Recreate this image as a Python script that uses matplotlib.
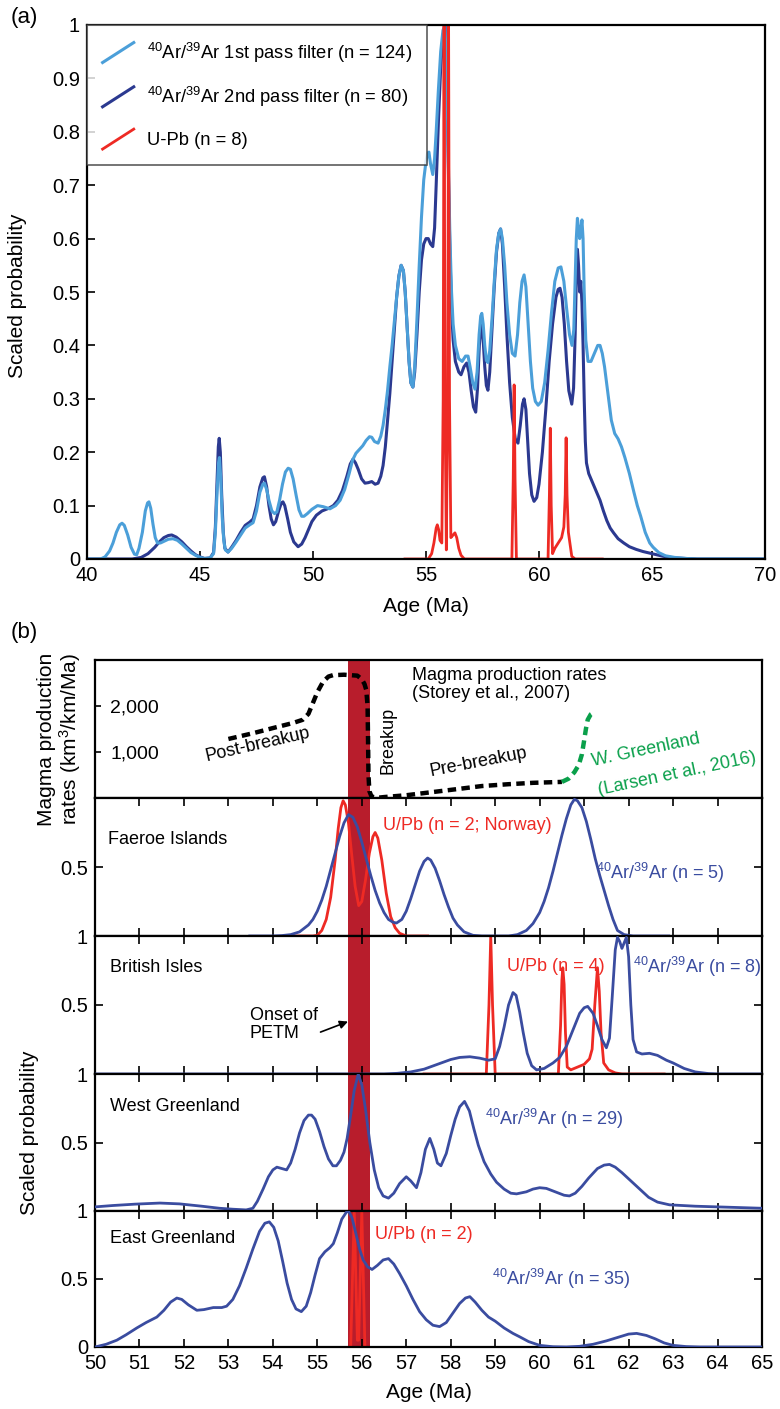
import matplotlib
matplotlib.use("Agg")
from matplotlib import pyplot as plt
from matplotlib.lines import Line2D
from matplotlib.legend_handler import HandlerBase

plt.rcParams['font.family'] = ['Liberation Sans', 'DejaVu Sans']
plt.rcParams['mathtext.fontset'] = 'custom'
plt.rcParams['mathtext.rm'] = 'Liberation Sans'
plt.rcParams['mathtext.it'] = 'Liberation Sans:italic'
plt.rcParams['mathtext.bf'] = 'Liberation Sans:bold'

# ---------------- panel (a): probability curves ----------------
a_age_1 = [40.0, 40.6, 40.8, 41.0, 41.15, 41.3, 41.45, 41.55, 41.65, 41.8, 41.95, 42.1, 42.2, 42.3,
           42.45, 42.58, 42.68, 42.74, 42.82, 42.92, 43.02, 43.12, 43.25, 43.4, 43.6, 43.8, 44.0,
           44.2, 44.4, 44.6, 44.8, 45.0, 45.2, 45.45, 45.6, 45.68, 45.75, 45.82, 45.86, 45.92, 45.98,
           46.05, 46.12, 46.24, 46.4, 46.6, 46.8, 47.0, 47.2, 47.35, 47.5, 47.65, 47.78, 47.85,
           47.95, 48.05, 48.18, 48.3, 48.4, 48.52, 48.65, 48.78, 48.9, 49.0, 49.12, 49.25, 49.38,
           49.5, 49.6, 49.75, 49.95, 50.2, 50.45, 50.75, 51.0, 51.2, 51.4, 51.6, 51.75, 51.9, 52.05,
           52.2, 52.35, 52.5, 52.6, 52.72, 52.88, 53.0, 53.1, 53.2, 53.3, 53.4, 53.5, 53.6, 53.7,
           53.8, 53.9, 54.0, 54.08, 54.16, 54.25, 54.33, 54.42, 54.5, 54.6, 54.7, 54.8, 54.9, 55.0,
           55.07, 55.13, 55.2, 55.3, 55.38, 55.45, 55.55, 55.65, 55.75, 55.84, 55.92, 56.0, 56.06,
           56.13, 56.2, 56.3, 56.45, 56.6, 56.75, 56.86, 56.95, 57.07, 57.17, 57.26, 57.35, 57.42,
           57.47, 57.53, 57.6, 57.67, 57.74, 57.82, 57.92, 58.02, 58.12, 58.22, 58.3, 58.38, 58.48,
           58.58, 58.7, 58.82, 58.94, 59.05, 59.15, 59.25, 59.34, 59.42, 59.52, 59.62, 59.72, 59.84,
           59.96, 60.1, 60.25, 60.4, 60.55, 60.7, 60.85, 60.97, 61.1, 61.22, 61.35, 61.46, 61.54,
           61.6, 61.65, 61.7, 61.75, 61.8, 61.85, 61.9, 61.95, 62.0, 62.07, 62.17, 62.3, 62.45, 62.6,
           62.7, 62.8, 62.9, 63.05, 63.2, 63.35, 63.5, 63.65, 63.8, 64.0, 64.2, 64.35, 64.5, 64.7,
           64.9, 65.05, 65.3, 65.6, 66.0, 66.5, 67.0, 70.0]
a_p_1 = [0.0, 0.0, 0.004, 0.015, 0.03, 0.05, 0.064, 0.067, 0.063, 0.045, 0.022, 0.009, 0.008, 0.02,
         0.05, 0.09, 0.105, 0.107, 0.095, 0.065, 0.04, 0.03, 0.03, 0.033, 0.037, 0.038, 0.035,
         0.028, 0.02, 0.012, 0.007, 0.003, 0.001, 0.002, 0.01, 0.05, 0.12, 0.18, 0.19, 0.15, 0.08,
         0.035, 0.017, 0.013, 0.02, 0.032, 0.045, 0.058, 0.064, 0.068, 0.09, 0.125, 0.14, 0.142,
         0.13, 0.11, 0.09, 0.085, 0.088, 0.11, 0.14, 0.163, 0.17, 0.168, 0.15, 0.12, 0.092,
         0.08, 0.08, 0.085, 0.093, 0.1, 0.098, 0.094, 0.1, 0.11, 0.13, 0.16, 0.185, 0.198, 0.205,
         0.212, 0.222, 0.229, 0.228, 0.22, 0.217, 0.23, 0.25, 0.28, 0.316, 0.36, 0.4, 0.445, 0.49,
         0.53, 0.55, 0.54, 0.5, 0.44, 0.37, 0.33, 0.322, 0.36, 0.45, 0.55, 0.64, 0.71, 0.745,
         0.76, 0.762, 0.74, 0.72, 0.75, 0.8, 0.88, 0.95, 0.99, 1.0, 0.9, 0.72, 0.6,
         0.5, 0.44, 0.4, 0.375, 0.37, 0.38, 0.38, 0.36, 0.33, 0.318, 0.35, 0.42, 0.455,
         0.46, 0.44, 0.4, 0.372, 0.368, 0.39, 0.45, 0.52, 0.58, 0.61, 0.618, 0.6, 0.55,
         0.48, 0.42, 0.385, 0.38, 0.42, 0.48, 0.52, 0.532, 0.51, 0.44, 0.37, 0.32, 0.295,
         0.288, 0.295, 0.33, 0.39, 0.46, 0.52, 0.545, 0.547, 0.52, 0.47, 0.42, 0.40, 0.43,
         0.52, 0.6, 0.638, 0.62, 0.6, 0.615, 0.635, 0.6, 0.5, 0.41, 0.37, 0.37, 0.385, 0.4,
         0.40, 0.385, 0.36, 0.31, 0.26, 0.235, 0.225, 0.21, 0.19, 0.16, 0.125, 0.1, 0.08, 0.05,
         0.03, 0.022, 0.012, 0.006, 0.003, 0.001, 0.0, 0.0]

a_age_2 = [40.0, 42.0, 42.4, 42.7, 43.0, 43.2, 43.4, 43.6, 43.75, 43.95, 44.2, 44.4, 44.6, 44.8,
           45.0, 45.2, 45.45, 45.6, 45.68, 45.75, 45.81, 45.85, 45.9, 45.96, 46.03, 46.1, 46.24,
           46.4, 46.6, 46.8, 47.0, 47.2, 47.35, 47.5, 47.65, 47.78, 47.85, 47.95, 48.05, 48.15,
           48.25, 48.35, 48.48, 48.6, 48.67, 48.75, 48.88, 49.0, 49.15, 49.34, 49.5, 49.65, 49.8,
           49.95, 50.15, 50.4, 50.7, 50.9, 51.1, 51.3, 51.5, 51.65, 51.77, 51.88, 52.0, 52.15, 52.3,
           52.45, 52.6, 52.75, 52.88, 53.0, 53.1, 53.2, 53.3, 53.4, 53.5, 53.6, 53.7, 53.8, 53.9,
           54.0, 54.08, 54.16, 54.25, 54.33, 54.42, 54.5, 54.6, 54.7, 54.8, 54.9, 55.0, 55.1, 55.2,
           55.3, 55.38, 55.45, 55.55, 55.65, 55.75, 55.86, 55.93, 56.0, 56.06, 56.13, 56.2, 56.3,
           56.45, 56.55, 56.68, 56.8, 56.9, 57.0, 57.1, 57.2, 57.28, 57.36, 57.42, 57.47, 57.53,
           57.6, 57.67, 57.74, 57.82, 57.92, 58.02, 58.12, 58.22, 58.3, 58.38, 58.48, 58.58, 58.7,
           58.82, 58.95, 59.07, 59.17, 59.27, 59.34, 59.42, 59.5, 59.58, 59.68, 59.78, 59.9, 60.0,
           60.15, 60.3, 60.45, 60.6, 60.75, 60.85, 60.93, 61.02, 61.12, 61.22, 61.32, 61.45, 61.53,
           61.6, 61.66, 61.7, 61.75, 61.8, 61.85, 61.9, 61.95, 62.0, 62.05, 62.1, 62.2, 62.4, 62.55,
           62.7, 62.85, 63.0, 63.15, 63.3, 63.5, 63.75, 64.0, 64.3, 64.6, 65.0, 65.5, 66.0, 67.0,
           70.0]
a_p_2 = [0.0, 0.0, 0.003, 0.01, 0.022, 0.032, 0.04, 0.044, 0.045, 0.041, 0.032, 0.023, 0.015, 0.008,
         0.004, 0.001, 0.002, 0.012, 0.06, 0.14, 0.21, 0.226, 0.2, 0.12, 0.05, 0.02, 0.013,
         0.022, 0.035, 0.05, 0.063, 0.069, 0.075, 0.1, 0.135, 0.152, 0.154, 0.135, 0.1, 0.075,
         0.064, 0.07, 0.09, 0.105, 0.107, 0.1, 0.075, 0.05, 0.032, 0.023, 0.028, 0.04, 0.055,
         0.07, 0.082, 0.09, 0.095, 0.1, 0.11, 0.128, 0.155, 0.178, 0.187, 0.18, 0.168, 0.15, 0.142,
         0.143, 0.145, 0.14, 0.142, 0.155, 0.175, 0.21, 0.26, 0.31, 0.37, 0.43, 0.49, 0.53, 0.55,
         0.54, 0.5, 0.44, 0.37, 0.33, 0.322, 0.35, 0.42, 0.5, 0.56, 0.59, 0.6, 0.6, 0.59,
         0.585, 0.62, 0.7, 0.82, 0.92, 0.98, 1.0, 0.9, 0.7, 0.57, 0.47, 0.41, 0.37,
         0.35, 0.345, 0.36, 0.367, 0.35, 0.315, 0.285, 0.275, 0.32, 0.4, 0.43, 0.44, 0.41,
         0.36, 0.325, 0.316, 0.35, 0.43, 0.51, 0.575, 0.61, 0.618, 0.59, 0.51, 0.42, 0.33,
         0.265, 0.225, 0.217, 0.25, 0.29, 0.3, 0.28, 0.22, 0.16, 0.12, 0.108, 0.115, 0.14,
         0.2, 0.28, 0.37, 0.44, 0.49, 0.505, 0.507, 0.49, 0.44, 0.37, 0.315, 0.29, 0.32,
         0.42, 0.54, 0.58, 0.55, 0.5, 0.52, 0.48, 0.4, 0.3, 0.22, 0.18, 0.16, 0.14, 0.125,
         0.11, 0.09, 0.072, 0.058, 0.049, 0.038, 0.03, 0.023, 0.018, 0.014, 0.01, 0.005, 0.002, 0.0,
         0.0]

a_age_upb = [54.07, 55.1, 55.25, 55.35, 55.45, 55.5, 55.56, 55.62, 55.7, 55.76, 55.8, 55.84, 55.9,
             55.96, 56.0, 56.04, 56.1, 56.2, 56.28, 56.36, 56.45, 56.55, 56.7, 58.8, 58.86, 58.9,
             58.94, 59.0, 60.4, 60.46, 60.5, 60.54, 60.6, 60.7, 60.85, 61.0, 61.1, 61.16, 61.2,
             61.24, 61.3, 61.45, 61.6, 62.8]
a_p_upb = [0.0, 0.0, 0.01, 0.03, 0.058, 0.064, 0.055, 0.035, 0.03, 0.3, 1.0, 0.3, 0.017,
           0.3, 1.0, 0.3, 0.04, 0.045, 0.049, 0.04, 0.02, 0.007, 0.0, 0.0, 0.15, 0.326,
           0.15, 0.0, 0.0, 0.12, 0.245, 0.1, 0.01, 0.02, 0.03, 0.04, 0.06, 0.12, 0.227,
           0.12, 0.05, 0.005, 0.0, 0.0]

legend_labels = ['$^{40}$Ar/$^{39}$Ar 1st pass filter (n = 124)',
                 '$^{40}$Ar/$^{39}$Ar 2nd pass filter (n = 80)',
                 'U-Pb (n = 8)']

# ---------------- panel (b) ----------------
mag_age = [53.0, 53.56, 54.0, 54.45, 54.67, 54.8, 54.9, 55.0, 55.13, 55.25, 55.35, 55.6, 55.9,
           56.0, 56.06, 56.1, 56.13, 56.14, 56.15, 56.17, 56.22, 56.35, 56.5, 57.0, 57.6, 58.2,
           58.7, 59.3, 59.85, 60.5]
mag_rate = [1283, 1410, 1520, 1630, 1700, 1830, 2065, 2300, 2530, 2640, 2670, 2680, 2660,
            2580, 2480, 2350, 2000, 1300, 500, 150, 30, 5, 20, 60, 130, 200,
            260, 300, 330, 350]
green_age = [60.5, 60.65, 60.78, 60.88, 60.95, 61.0, 61.04, 61.08, 61.15, 61.25]
green_rate = [350, 420, 560, 720, 950, 1250, 1500, 1700, 1820, 1880]

fa_age = [53.48, 54.0, 54.2, 54.4, 54.6, 54.8, 54.9, 55.0, 55.1, 55.2, 55.3, 55.4, 55.5, 55.6,
          55.7, 55.8, 55.9, 56.0, 56.1, 56.2, 56.3, 56.4, 56.5, 56.6, 56.7, 56.78, 56.9, 57.0,
          57.1, 57.2, 57.3, 57.4, 57.48, 57.55, 57.65, 57.75, 57.85, 57.95, 58.05, 58.15, 58.3,
          58.5, 58.7, 59.3, 59.5, 59.7, 59.85, 60.0, 60.1, 60.2, 60.3, 60.4, 60.5, 60.6, 60.7,
          60.78, 60.85, 60.95, 61.05, 61.15, 61.25, 61.35, 61.45, 61.55, 61.65, 61.75, 61.9, 62.1,
          62.9]
fa_p = [0.0, 0.0, 0.003, 0.01, 0.03, 0.08, 0.12, 0.18, 0.26, 0.36, 0.48, 0.6, 0.72, 0.82,
        0.88, 0.86, 0.79, 0.68, 0.56, 0.44, 0.33, 0.24, 0.17, 0.12, 0.1, 0.094, 0.12, 0.18,
        0.27, 0.37, 0.47, 0.54, 0.565, 0.55, 0.49, 0.4, 0.3, 0.21, 0.13, 0.08, 0.03,
        0.005, 0.0, 0.0, 0.01, 0.04, 0.09, 0.17, 0.25, 0.35, 0.47, 0.6, 0.73, 0.85, 0.95,
        0.99, 0.98, 0.93, 0.83, 0.7, 0.56, 0.44, 0.33, 0.22, 0.12, 0.04, 0.01, 0.0,
        0.0]
fa_age_upb = [54.42, 54.9, 55.0, 55.1, 55.2, 55.3, 55.4, 55.47, 55.53, 55.58, 55.63, 55.7, 55.77,
              55.85, 55.93, 56.0, 56.08, 56.17, 56.25, 56.3, 56.36, 56.45, 56.55, 56.65, 56.75,
              56.85, 57.0, 57.48]
fa_p_upb = [0.0, 0.0, 0.005, 0.04, 0.12, 0.28, 0.55, 0.78, 0.93, 0.98, 0.95, 0.82, 0.6,
            0.36, 0.22, 0.25, 0.4, 0.6, 0.72, 0.75, 0.71, 0.55, 0.31, 0.14, 0.06,
            0.02, 0.0, 0.0]

bi_age = [50.0, 56.5, 56.8, 57.1, 57.4, 57.7, 58.0, 58.2, 58.43, 58.65, 58.85, 59.0, 59.1, 59.2,
          59.3, 59.4, 59.47, 59.55, 59.63, 59.72, 59.82, 59.93, 60.1, 60.3, 60.45, 60.6, 60.75,
          60.9, 61.0, 61.08, 61.2, 61.3, 61.4, 61.5, 61.57, 61.63, 61.7, 61.75, 61.8, 61.85, 61.9,
          61.95, 62.0, 62.05, 62.1, 62.18, 62.3, 62.47, 62.65, 62.85, 63.0, 63.25, 63.5, 63.8,
          64.0, 65.0]
bi_p = [0.0, 0.0, 0.005, 0.015, 0.035, 0.07, 0.105, 0.12, 0.125, 0.115, 0.1, 0.11, 0.2, 0.34,
        0.5, 0.59, 0.57, 0.45, 0.3, 0.15, 0.06, 0.03, 0.04, 0.08, 0.12, 0.2, 0.32,
        0.44, 0.48, 0.49, 0.44, 0.35, 0.25, 0.19, 0.26, 0.55, 0.9, 0.99, 0.96, 0.91, 0.95,
        0.99, 0.85, 0.5, 0.25, 0.16, 0.145, 0.15, 0.135, 0.1, 0.08, 0.04, 0.015, 0.003,
        0.0, 0.0]
bi_age_upb = [57.4, 58.8, 58.86, 58.9, 58.94, 59.0, 60.42, 60.47, 60.5, 60.52, 60.55, 60.58, 60.62,
              60.7, 60.85, 61.0, 61.12, 61.18, 61.24, 61.3, 61.34, 61.38, 61.44, 61.55, 61.7,
              61.85, 62.8]
bi_p_upb = [0.0, 0.0, 0.5, 1.0, 0.5, 0.0, 0.0, 0.35, 0.68, 0.77, 0.65, 0.3, 0.05,
            0.03, 0.05, 0.07, 0.11, 0.18, 0.5, 0.77, 0.6, 0.3, 0.08, 0.03, 0.008,
            0.0, 0.0]

wg_age = [50.0, 50.4, 50.9, 51.46, 51.9, 52.4, 52.8, 53.1, 53.4, 53.55, 53.65, 53.78, 53.9, 54.0,
          54.09, 54.2, 54.31, 54.4, 54.5, 54.6, 54.7, 54.8, 54.87, 54.95, 55.05, 55.15, 55.25,
          55.35, 55.43, 55.52, 55.6, 55.67, 55.75, 55.83, 55.92, 56.0, 56.08, 56.18, 56.28, 56.38,
          56.48, 56.6, 56.72, 56.85, 57.0, 57.1, 57.23, 57.33, 57.43, 57.53, 57.62, 57.7, 57.78,
          57.9, 58.0, 58.1, 58.2, 58.31, 58.42, 58.52, 58.62, 58.75, 58.9, 59.03, 59.2, 59.35,
          59.48, 59.7, 59.85, 60.0, 60.15, 60.35, 60.55, 60.67, 60.8, 60.95, 61.1, 61.3, 61.45,
          61.57, 61.7, 61.85, 62.05, 62.25, 62.45, 62.65, 62.92, 63.5, 64.0, 64.5, 65.0]
wg_p = [0.03, 0.04, 0.05, 0.058, 0.052, 0.035, 0.02, 0.013, 0.008, 0.02, 0.07, 0.16, 0.25, 0.3,
        0.32, 0.31, 0.3, 0.35, 0.45, 0.57, 0.66, 0.7, 0.7, 0.67, 0.58, 0.47, 0.38,
        0.33, 0.33, 0.37, 0.43, 0.53, 0.7, 0.88, 1.0, 0.92, 0.75, 0.5, 0.3, 0.17,
        0.11, 0.094, 0.13, 0.2, 0.25, 0.22, 0.17, 0.28, 0.45, 0.53, 0.45, 0.35, 0.33,
        0.42, 0.55, 0.67, 0.76, 0.8, 0.73, 0.6, 0.48, 0.36, 0.27, 0.21, 0.16, 0.13,
        0.125, 0.14, 0.16, 0.17, 0.165, 0.14, 0.115, 0.11, 0.13, 0.18, 0.24, 0.31, 0.335,
        0.34, 0.32, 0.28, 0.22, 0.16, 0.1, 0.065, 0.045, 0.035, 0.03, 0.025, 0.02]

eg_age = [50.0, 50.25, 50.49, 50.7, 50.94, 51.15, 51.39, 51.55, 51.7, 51.84, 51.95, 52.1, 52.29,
          52.45, 52.66, 52.85, 52.96, 53.1, 53.25, 53.4, 53.55, 53.7, 53.82, 53.92, 54.02, 54.12,
          54.22, 54.32, 54.42, 54.52, 54.64, 54.75, 54.85, 54.95, 55.05, 55.17, 55.28, 55.36,
          55.45, 55.55, 55.65, 55.7, 55.78, 55.87, 55.95, 56.03, 56.13, 56.23, 56.35, 56.48, 56.6,
          56.72, 56.85, 57.0, 57.15, 57.3, 57.45, 57.6, 57.75, 57.9, 58.05, 58.2, 58.33, 58.43,
          58.55, 58.7, 58.85, 59.0, 59.2, 59.4, 59.55, 59.75, 60.0, 60.3, 60.6, 60.9, 61.2, 61.5,
          61.8, 62.0, 62.18, 62.4, 62.6, 62.8, 63.0, 63.3, 63.6, 65.0]
eg_p = [0.0, 0.02, 0.05, 0.09, 0.14, 0.18, 0.22, 0.27, 0.33, 0.36, 0.35, 0.31, 0.27,
        0.275, 0.29, 0.29, 0.3, 0.35, 0.45, 0.58, 0.72, 0.85, 0.91, 0.92, 0.88, 0.78,
        0.63, 0.47, 0.35, 0.28, 0.26, 0.3, 0.4, 0.53, 0.65, 0.7, 0.73, 0.76,
        0.84, 0.94, 0.99, 1.0, 0.95, 0.83, 0.72, 0.64, 0.59, 0.57, 0.6, 0.64, 0.65,
        0.61, 0.54, 0.45, 0.35, 0.26, 0.2, 0.16, 0.15, 0.18, 0.25, 0.32, 0.36, 0.37,
        0.33, 0.27, 0.22, 0.19, 0.14, 0.1, 0.075, 0.04, 0.012, 0.002, 0.0, 0.005, 0.02, 0.045,
        0.075, 0.095, 0.1, 0.085, 0.06, 0.03, 0.012, 0.003, 0.0, 0.0]
eg_age_upb = [55.75, 55.83, 55.9, 55.93, 56.0, 56.07]
eg_p_upb = [0.0, 1.0, 0.05, 0.05, 1.0, 0.0]

petm = (55.7, 56.18)

light_blue = '#4b9fd9'
dark_blue = '#2b3990'
blue_b = '#3a4ca0'
red = '#ee2a24'
bar_red = '#b81d2c'
green = '#0aa04b'

W, H = 780, 1409


def rect(l, t, r, b):
    return [l / W, 1 - b / H, (r - l) / W, (b - t) / H]


class HandlerDiag(HandlerBase):
    def create_artists(self, legend, orig_handle, xdescent, ydescent, width, height, fontsize, trans):
        line = Line2D([-xdescent, -xdescent + width], [-ydescent, -ydescent + height],
                      color=orig_handle.get_color(), lw=orig_handle.get_linewidth(), transform=trans)
        return [line]


fig = plt.figure(figsize=(W / 100, H / 100), dpi=100)

# ---- (a)
ax = fig.add_axes(rect(87, 25, 765, 559))
h2, = ax.plot(a_age_2, a_p_2, color=dark_blue, lw=2.2, solid_joinstyle='round')
h1, = ax.plot(a_age_1, a_p_1, color=light_blue, lw=2.2, solid_joinstyle='round')
h3, = ax.plot(a_age_upb, a_p_upb, color=red, lw=2.0, solid_joinstyle='round')
ax.set_xlim(40, 70)
ax.set_ylim(0, 1)
ax.set_xticks(range(40, 71, 5))
ax.set_yticks([i / 10 for i in range(11)])
ax.set_yticklabels(['0'] + ['%.1f' % (i / 10) for i in range(1, 10)] + ['1'])
ax.tick_params(direction='in', length=6, width=1.2, labelsize=14.5, pad=5)
for s in ax.spines.values():
    s.set_linewidth(1.6)
ax.set_xlabel('Age (Ma)', fontsize=15, labelpad=9)
fig.text(18 / W, 1 - 296 / H, 'Scaled probability', fontsize=15, rotation=90,
         ha='center', va='center')
leg = ax.legend([h1, h2, h3], legend_labels, handler_map={Line2D: HandlerDiag()},
                loc='upper left', bbox_to_anchor=(0, 1), borderaxespad=0, fancybox=False,
                fontsize=13.2, handlelength=1.7, handleheight=1.3, labelspacing=1.1,
                borderpad=0.85, handletextpad=0.7)
leg.get_frame().set_edgecolor('#333333')
leg.get_frame().set_linewidth(1.2)
fig.text(24 / W, 1 - 18 / H, '(a)', fontsize=16, ha='center', va='center')

# ---- (b)
axm = fig.add_axes(rect(95, 660, 762, 798))
axf = fig.add_axes(rect(95, 798, 762, 936))
axb = fig.add_axes(rect(95, 936, 762, 1074))
axw = fig.add_axes(rect(95, 1074, 762, 1211))
axe = fig.add_axes(rect(95, 1211, 762, 1347))

for a in [axm, axf, axb, axw, axe]:
    a.axvspan(petm[0], petm[1], color=bar_red, lw=0, zorder=0)
    a.set_xlim(50, 65)
    for s in a.spines.values():
        s.set_linewidth(1.6)

# magma panel
axm.plot(mag_age, mag_rate, color='black', lw=3.2, linestyle=(0, (1.9, 1.2)))
axm.plot(green_age, green_rate, color=green, lw=3.2, linestyle=(0, (1.9, 1.2)))
axm.set_ylim(0, 3000)
axm.set_xticks([])
axm.set_yticks([1000, 2000])
axm.set_yticklabels(['1,000', '2,000'])
axm.tick_params(axis='y', direction='in', length=4, width=1.2, labelsize=14, pad=-11)
for t in axm.get_yticklabels():
    t.set_horizontalalignment('left')
axm.text(57.12, 2470, 'Magma production rates\n(Storey et al., 2007)', fontsize=13,
         ha='left', va='center', linespacing=1.05)
axm.text(53.66, 1150, 'Post-breakup', fontsize=13, ha='center', va='center', rotation=13,
         rotation_mode='anchor')
axm.text(56.6, 1260, 'Breakup', fontsize=13, ha='center', va='center', rotation=90)
axm.text(58.63, 780, 'Pre-breakup', fontsize=13, ha='center', va='center', rotation=11,
         rotation_mode='anchor')
axm.text(62.4, 1030, 'W. Greenland', fontsize=13, ha='center', va='center', rotation=12,
         rotation_mode='anchor', color=green)
axm.text(63.1, 520, '(Larsen et al., 2016)', fontsize=13, ha='center', va='center', rotation=12,
         rotation_mode='anchor', color=green)
fig.text(60 / W, 1 - 739 / H, 'Magma production\nrates (km$^3$/km/Ma)', fontsize=15,
         rotation=90, ha='center', va='center', multialignment='center', linespacing=1.05)

# probability subpanels
subs = [
    (axf, fa_age, fa_p, fa_age_upb, fa_p_upb, [0.5, 1], ['0.5', '']),
    (axb, bi_age, bi_p, bi_age_upb, bi_p_upb, [0.5, 1], ['0.5', '1']),
    (axw, wg_age, wg_p, None, None, [0.5, 1], ['0.5', '1']),
    (axe, eg_age, eg_p, eg_age_upb, eg_p_upb, [0, 0.5, 1], ['0', '0.5', '1']),
]
for a, xa, ya, xu, yu, yt, yl in subs:
    a.plot(xa, ya, color=blue_b, lw=2.0, solid_joinstyle='round', zorder=3)
    if xu is not None:
        a.plot(xu, yu, color=red, lw=2.0, solid_joinstyle='round', zorder=2)
    a.set_ylim(0, 1)
    a.set_yticks(yt)
    a.set_yticklabels(yl)
    a.set_xticks(range(50, 66))
    a.tick_params(direction='in', length=6, width=1.2, labelsize=14.5, top=True, right=True,
                  labelbottom=(a is axe), pad=5)

axe.set_xlabel('Age (Ma)', fontsize=15, labelpad=7)

ar_kw = dict(fontsize=13, color=blue_b, ha='left', va='center')
axf.text(50.29, 0.70, 'Faeroe Islands', fontsize=13, ha='left', va='center')
axf.text(56.47, 0.80, 'U/Pb (n = 2; Norway)', fontsize=13, color=red, ha='left', va='center')
axf.text(61.26, 0.46, '$^{40}$Ar/$^{39}$Ar (n = 5)', **ar_kw)
axb.text(50.34, 0.775, 'British Isles', fontsize=13, ha='left', va='center')
axb.text(59.26, 0.78, 'U/Pb (n = 4)', fontsize=13, color=red, ha='left', va='center')
axb.text(62.09, 0.775, '$^{40}$Ar/$^{39}$Ar (n = 8)', **ar_kw)
axb.annotate('Onset of\nPETM', xy=(55.69, 0.38), xytext=(53.48, 0.36), fontsize=13,
             ha='left', va='center', linespacing=1.1,
             arrowprops=dict(arrowstyle='-|>', color='black', lw=1.2, mutation_scale=12,
                             shrinkA=0, shrinkB=0, relpos=(1.0, 0.25)))
axw.text(50.34, 0.76, 'West Greenland', fontsize=13, ha='left', va='center')
axw.text(58.76, 0.67, '$^{40}$Ar/$^{39}$Ar (n = 29)', **ar_kw)
axe.text(50.34, 0.80, 'East Greenland', fontsize=13, ha='left', va='center')
axe.text(56.29, 0.83, 'U/Pb (n = 2)', fontsize=13, color=red, ha='left', va='center')
axe.text(58.92, 0.50, '$^{40}$Ar/$^{39}$Ar (n = 35)', **ar_kw)

fig.text(30 / W, 1 - 1133 / H, 'Scaled probability', fontsize=15, rotation=90,
         ha='center', va='center')
fig.text(24 / W, 1 - 632 / H, '(b)', fontsize=16, ha='center', va='center')

fig.savefig('out.png', dpi=100)
